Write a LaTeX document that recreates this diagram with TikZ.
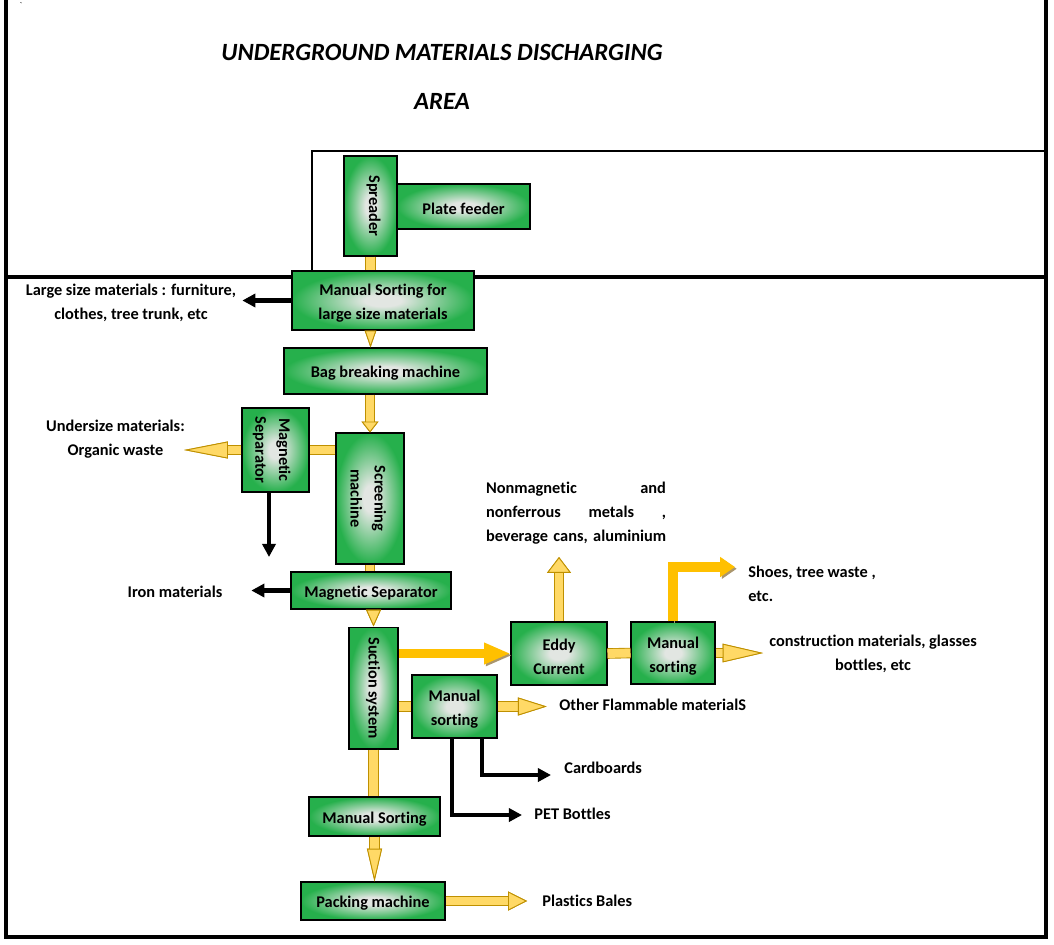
\documentclass[tikz,border=0pt]{standalone}
\usepackage{fontspec}
\setmainfont{Carlito}[Ligatures=NoCommon]
\usetikzlibrary{arrows.meta}

\definecolor{boxgreen}{RGB}{38,176,76}
\definecolor{boxmid}{RGB}{226,230,226}
\definecolor{flowyellow}{RGB}{255,217,102}
\definecolor{flowedge}{RGB}{191,144,0}
\definecolor{flowgold}{RGB}{255,192,0}
\definecolor{flowshade}{RGB}{170,150,110}
\pgfdeclareradialshading{boxglow}{\pgfpoint{0bp}{0bp}}{color(0bp)=(boxmid); color(5bp)=(boxmid); color(25bp)=(boxgreen); color(50bp)=(boxgreen)}

\newcommand{\boxfont}{\fontsize{9.3}{13.6}\selectfont\bfseries}
\newcommand{\titlefont}{\fontsize{14.1}{16}\selectfont\bfseries\itshape}
\newcommand{\vtext}[1]{\rotatebox{-90}{\begin{tabular}{@{}c@{}}#1\end{tabular}}}

\tikzset{
  box/.style={draw=black, line width=0.6pt, shading=boxglow, inner sep=1pt, align=center, font=\boxfont},
  hbox/.style={box, text height=9.4pt},
  mbox/.style={box, text height=23.5pt},
  lbl/.style={font=\boxfont, align=center},
  flow/.style 2 args={line width=5pt, draw=flowyellow, -{Triangle[length=#1, width=#2, fill=flowyellow, color=flowedge, line width=0.5pt]}, preaction={draw=flowedge, line width=6pt}},
  flowbar/.style={line width=5pt, draw=flowyellow, preaction={draw=flowedge, line width=6pt}},
  goldflow/.style 2 args={line width=5.5pt, draw=flowgold, -{Triangle[length=#1, width=#2]}, preaction={draw=flowshade, transform canvas={shift={(1pt,-1pt)}}}},
  outflow/.style={line width=2.4pt, -{Triangle[length=7.5pt, width=7.5pt]}}
}

\begin{document}
\begin{tikzpicture}[x=0.02cm, y=-0.02cm]
  \useasboundingbox (0,0) rectangle (1054,944);

  % Frame of the two areas
  \draw[line width=2pt] (6,0) -- (6,937) -- (1046,937) -- (1046,0);
  \draw[line width=2pt] (6,277) -- (1046,277);
  \draw[line width=1.6pt] (312,277) -- (312,151) -- (1046,151);
  \node[font=\tiny, inner sep=0pt] (tick) at (21,5) {\textasciigrave};

  % Title
  \node[font=\titlefont] (title) at (442,52) {UNDERGROUND MATERIALS DISCHARGING};
  \node[font=\titlefont] (area) at (442,101) {AREA};

  % Machines
  \node[hbox, minimum width=2.66cm, minimum height=0.9cm] (plate) at (463.5,206.5) {Plate feeder};
  \node[box, minimum width=1.06cm, minimum height=2cm] (spread) at (370.5,206) {\hspace*{4pt}\vtext{Spreader}};
  \node[mbox, minimum width=3.64cm, minimum height=1.18cm] (sortlarge) at (383,300.5) {Manual Sorting for\\large size materials};
  \node[hbox, minimum width=4.06cm, minimum height=0.92cm] (bag) at (385.5,371) {Bag breaking machine};
  \node[box, minimum width=1.34cm, minimum height=1.68cm] (magv) at (275.5,450) {\vtext{Magnetic\\Separator}\hspace*{4pt}};
  \node[box, minimum width=1.36cm, minimum height=2.62cm] (screen) at (370,498.5) {\vtext{Screening\\machine}\hspace*{3pt}};
  \node[hbox, minimum width=3.2cm, minimum height=0.74cm] (magh) at (371,590.5) {Magnetic Separator};
  \node[box, minimum width=0.98cm, minimum height=2.44cm] (suction) at (373.5,688) {\vtext{Suction system}};
  \node[mbox, minimum width=1.92cm, minimum height=1.26cm] (eddy) at (559,653.5) {Eddy\\Current};
  \node[mbox, minimum width=1.68cm, minimum height=1.24cm] (sortr) at (673,653) {Manual\\sorting};
  \node[mbox, minimum width=1.7cm, minimum height=1.26cm] (sortm) at (454.5,706.5) {Manual\\sorting};
  \node[hbox, minimum width=2.62cm, minimum height=0.78cm] (sortb) at (374.5,816.5) {Manual Sorting};
  \node[hbox, minimum width=2.88cm, minimum height=0.76cm] (pack) at (373,901) {Packing machine};

  % Outputs
  \node[lbl] (large) at (131,303) {Large size materials : furniture,\\clothes, tree trunk, etc};
  \node[lbl] (under) at (115.5,439) {Undersize materials:\\Organic waste};
  \node[lbl] (iron) at (175,592) {Iron materials};
  \node[lbl, align=left, text width=3.6cm, inner sep=0pt] (nonmag) at (576,513) {Nonmagnetic\hfill and\\nonferrous\hfill metals\hfill ,\\\mbox{beverage cans, aluminium}};
  \node[lbl, align=left, anchor=west, inner sep=0pt] (shoes) at (748,583.5) {Shoes, tree waste ,\\etc.};
  \node[lbl] (constr) at (873,654) {construction materials, glasses\\bottles, etc};
  \node[lbl, anchor=west, inner sep=0pt] (flam) at (559,705) {Other Flammable materialS};
  \node[lbl, anchor=west, inner sep=0pt] (card) at (564,768) {Cardboards};
  \node[lbl, anchor=west, inner sep=0pt] (pet) at (534,814) {PET Bottles};
  \node[lbl, anchor=west, inner sep=0pt] (bales) at (542,901) {Plastics Bales};
  \coordinate (underout) at (184,451);
  \coordinate (magvout) at (269,557);
  \coordinate (eddyout) at (559,557);
  \coordinate (shoesout) at (735,567);
  \coordinate (cardout) at (551,775);
  \coordinate (petout) at (522,815);

  % Main line
  \draw[flowbar] (spread.south) -- (spread.south |- sortlarge.north);
  \draw[flow={9.6pt}{6.5pt}] (spread.south |- sortlarge.south) -- (spread.south |- bag.north);
  \draw[outflow] (sortlarge.west) -- (sortlarge.west -| large.east);
  \draw[flow={6.2pt}{9.6pt}] (bag.south -| screen.north) -- (screen.north);
  \draw[flowbar] (screen.west |- magv.east) -- (magv.east);
  \draw[flow={25pt}{9.6pt}] (magv.west) -- (magv.west -| underout);
  \draw[outflow] (magv.south -| magvout) -- (magvout);
  \draw[flowbar] (screen.south) -- (screen.south |- magh.north);
  \draw[outflow, shorten >=13pt] (magh.west) -- (magh.west -| iron.east);
  \draw[flow={9.6pt}{8.5pt}] (magh.south -| suction.north) -- (suction.north);

  % Suction branches
  \draw[goldflow={15pt}{11.3pt}] (suction.east |- eddy.west) -- (eddy.west);
  \draw[flow={9pt}{13.6pt}] (eddy.north) -- (eddyout);
  \draw[flowbar] (eddy.east) -- (sortr.west);
  \draw[flow={23pt}{10.5pt}] (sortr.east) -- (sortr.east -| constr.west);
  \draw[goldflow={8.5pt}{11pt}] (sortr.north) |- (shoesout);
  \draw[flowbar] (suction.east |- sortm.west) -- (sortm.west);
  \draw[flow={16.4pt}{10.2pt}, shorten >=7pt] (sortm.east) -- (sortm.east -| flam.west);
  \draw[outflow] (482,0 |- sortm.south) |- (cardout);
  \draw[outflow] (452,0 |- sortm.south) |- (petout);

  % Plastics line
  \draw[flowbar] (suction.south) -- (suction.south |- sortb.north);
  \draw[flow={18.7pt}{8.5pt}] (sortb.south) -- (sortb.south |- pack.north);
  \draw[flow={10.8pt}{10.8pt}, shorten >=8.5pt] (pack.east) -- (pack.east -| bales.west);
\end{tikzpicture}
\end{document}
